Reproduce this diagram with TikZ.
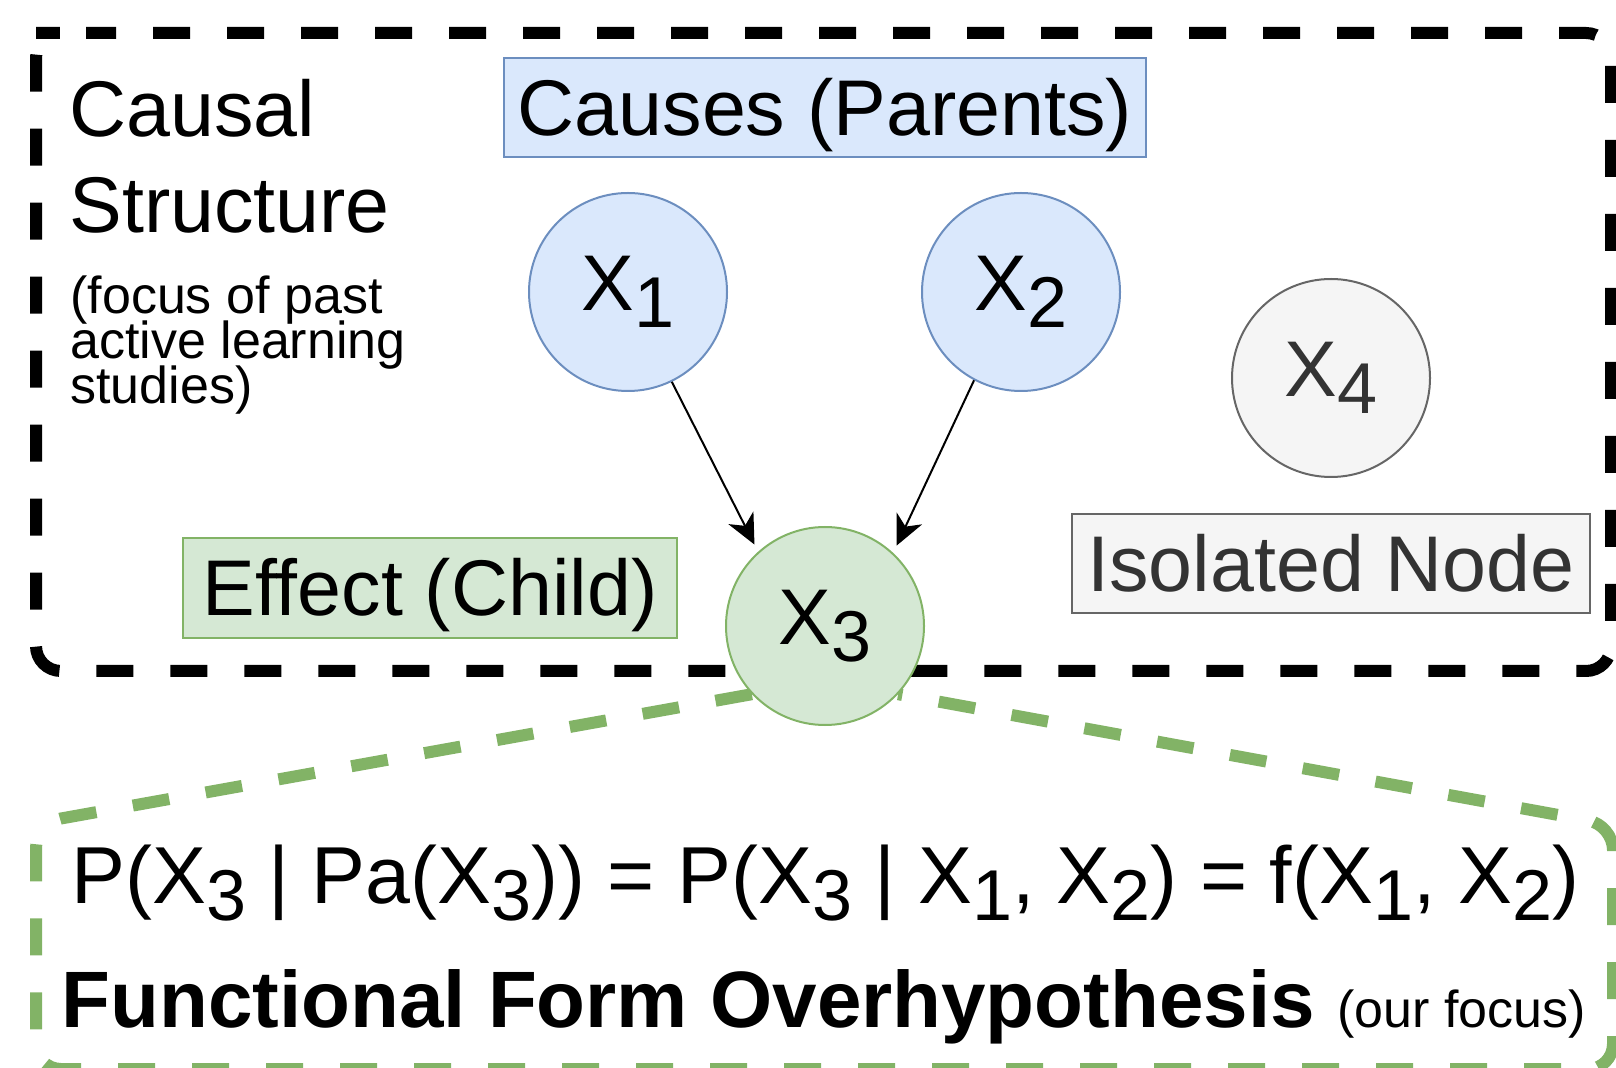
\documentclass[tikz,border=0pt]{standalone}
\usepackage{fontspec}
\setmainfont{Liberation Sans}
\usetikzlibrary{arrows.meta,backgrounds}
\definecolor{bluefill}{HTML}{DAE8FC}
\definecolor{bluedraw}{HTML}{6C8EBF}
\definecolor{greenfill}{HTML}{D5E8D4}
\definecolor{greendraw}{HTML}{82B366}
\definecolor{grayfill}{HTML}{F5F5F5}
\definecolor{graydraw}{HTML}{666666}
\definecolor{graytext}{HTML}{333333}
\newcommand{\bigsize}{\fontsize{39.5}{46}\selectfont}
\newcommand{\smallsize}{\fontsize{26}{22}\selectfont}
\newcommand{\xvar}[1]{X\raisebox{-8.5pt}{\fontsize{36}{40}\selectfont #1}}
\begin{document}
\begin{tikzpicture}[x=0.5pt, y=-0.5pt,
  lbl/.style={rectangle, inner sep=0pt, font=\bigsize, text height=28pt, text depth=0pt, line width=1pt},
  causebox/.style={lbl, fill=bluefill, draw=bluedraw},
  effectbox/.style={lbl, fill=greenfill, draw=greendraw},
  isobox/.style={lbl, fill=grayfill, draw=graydraw, text=graytext},
  varnode/.style={circle, inner sep=0pt, minimum size=99pt, line width=1pt, font=\bigsize},
  parentnode/.style={varnode, fill=bluefill, draw=bluedraw},
  childnode/.style={varnode, fill=greenfill, draw=greendraw},
  lonenode/.style={varnode, fill=grayfill, draw=graydraw, text=graytext},
  causearrow/.style={-{Stealth[length=15pt, width=14pt, inset=4.5pt]}, line width=1pt, shorten >=4pt},
  blackdash/.style={draw=black, line width=6pt, dash pattern=on 18.5pt off 18.5pt, dash phase=3.5pt, rounded corners=12.5pt},
  greendash/.style={draw=greendraw, line width=6pt, dash pattern=on 18.5pt off 18.5pt, rounded corners=12.5pt},
  freetext/.style={anchor=base west, inner sep=0pt}
]
\useasboundingbox (0,0) rectangle (1616,1068);

% labelled boxes
\node[causebox, minimum width=321pt, minimum height=49.5pt] (causes) at (825,107.5) {Causes (Parents)};
\node[effectbox, minimum width=247pt, minimum height=50pt] (effect) at (430,588) {Effect (Child)};
\node[isobox, minimum width=259pt, minimum height=49.5pt] (isolated) at (1331,563.5) {Isolated Node};

% variables
\node[parentnode] (x1) at (628,292) {\xvar{1}};
\node[parentnode] (x2) at (1021,292) {\xvar{2}};
\node[childnode] (x3) at (825,626) {\xvar{3}};
\node[lonenode] (x4) at (1331,378) {\xvar{4}};

% free texts
\node[freetext, font=\bigsize] (causalA) at (69,137) {Causal};
\node[freetext, font=\bigsize] (causalB) at (69,233) {Structure};
\node[freetext, font=\smallsize] (focusA) at (70,314) {(focus of past};
\node[freetext, font=\smallsize] (focusB) at (70,359) {active learning};
\node[freetext, font=\smallsize] (focusC) at (70,404) {studies)};
\node[freetext, font=\fontsize{40.4}{46}\selectfont] (formula) at (71,903)
  {P(\xvar{3} | Pa(\xvar{3})) = P(\xvar{3} | \xvar{1}, \xvar{2}) = f(\xvar{1}, \xvar{2})};
\node[freetext] (ffo) at (61,1027)
  {{\fontsize{40}{46}\selectfont\bfseries Functional Form Overhypothesis }{\smallsize (our focus)}};

% arrows
\draw[causearrow] (x1.-64.5) -- (x3.132.7);
\draw[causearrow] (x2.-118.4) -- (x3.47.6);

% dashed frames
\begin{scope}[on background layer]
\draw[blackdash] (61,33) -- (1611,33) -- (1611,671) -- (36,671) -- (36,33) -- cycle;
\draw[greendash] (x3.-137.5) -- (36,823) -- (36,1069) -- (1613,1069) -- (1613,825) -- (x3.-43);
\end{scope}
\end{tikzpicture}
\end{document}
